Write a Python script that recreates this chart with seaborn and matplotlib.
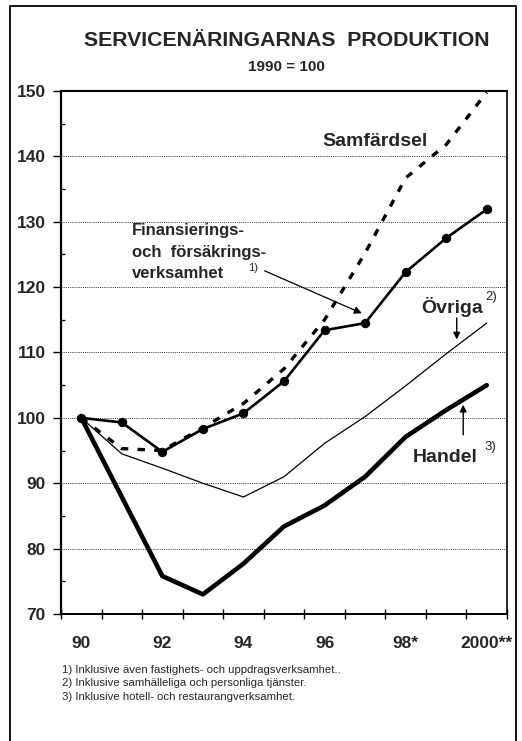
import matplotlib
matplotlib.use("Agg")
import matplotlib.pyplot as plt
from matplotlib.patches import Rectangle
from matplotlib.ticker import FixedLocator, MultipleLocator
import seaborn as sns
import pandas as pd

# Index series, 1990 = 100
years = list(range(1990, 2001))
samfardsel = [100, 95.3, 95.0, 98.5, 102.2, 107.5, 115.0, 125.2, 136.7, 141.8, 149.8]
finansiering = [100, 99.3, 94.8, 98.3, 100.7, 105.6, 113.4, 114.5, 122.3, 127.5, 131.9]
ovriga = [100, 94.5, 92.3, 90.0, 87.9, 91.0, 96.1, 100.2, 104.9, 109.8, 114.5]
handel = [100, 87.9, 75.8, 73.0, 77.7, 83.4, 86.6, 91.0, 97.1, 101.2, 105.0]

xtick_years = [1990, 1992, 1994, 1996, 1998, 2000]
xtick_labels = ["90", "92", "94", "96", "98*", "2000**"]
ytick_values = [70, 80, 90, 100, 110, 120, 130, 140, 150]

title = "SERVICENÄRINGARNAS  PRODUKTION"
subtitle = "1990 = 100"
fin_label = ["Finansierings-", "och  försäkrings-", "verksamhet"]
footnotes = [
    "1) Inklusive även fastighets- och uppdragsverksamhet..",
    "2) Inklusive samhälleliga och personliga tjänster.",
    "3) Inklusive hotell- och restaurangverksamhet.",
]

df = pd.DataFrame({
    "år": years * 4,
    "index": samfardsel + finansiering + ovriga + handel,
    "näring": (["Samfärdsel"] * 11 + ["Finansiering"] * 11
               + ["Övriga"] * 11 + ["Handel"] * 11),
})

sns.set_theme(style="ticks")
plt.rcParams["font.family"] = ["Liberation Sans", "DejaVu Sans"]

fig = plt.figure(figsize=(5.22, 7.41), dpi=100)
ax = fig.add_axes([61 / 522, 1 - 614 / 741, (507 - 61) / 522, (614 - 91) / 741])

# Horizontal dotted grid
for v in ytick_values[1:-1]:
    ax.axhline(v, color="#333333", lw=0.7, ls=(0, (1, 1.2)), zorder=0)

sub = df[df["näring"] == "Övriga"]
sns.lineplot(data=sub, x="år", y="index", ax=ax, color="black", lw=0.9,
             legend=False, zorder=2)
sub = df[df["näring"] == "Handel"]
sns.lineplot(data=sub, x="år", y="index", ax=ax, color="black", lw=3.3,
             legend=False, zorder=3)
sub = df[df["näring"] == "Finansiering"]
sns.lineplot(data=sub, x="år", y="index", ax=ax, color="black", lw=1.9,
             marker="o", markersize=6, markeredgecolor="black",
             legend=False, zorder=4)
sub = df[df["näring"] == "Samfärdsel"]
sns.lineplot(data=sub, x="år", y="index", ax=ax, color="black", lw=2.4,
             legend=False, zorder=5)
ax.lines[-1].set_dashes((2.2, 2.8))
ax.lines[-1].set_dash_capstyle("butt")

ax.set_xlim(1989.5, 2000.5)
ax.set_ylim(70, 150)
ax.set_xlabel("")
ax.set_ylabel("")

ax.xaxis.set_major_locator(FixedLocator(xtick_years))
ax.set_xticklabels(xtick_labels)
ax.xaxis.set_minor_locator(MultipleLocator(1, offset=0.5))
ax.tick_params(axis="x", which="major", length=0, pad=16,
               labelsize=12.5)
ax.tick_params(axis="x", which="minor", length=7, width=1.0,
               direction="inout", color="black")

ax.yaxis.set_major_locator(FixedLocator(ytick_values))
ax.yaxis.set_minor_locator(MultipleLocator(5))
ax.tick_params(axis="y", which="major", length=6, width=1.0,
               direction="out", pad=5, labelsize=12.5, color="black")
ax.tick_params(axis="y", which="minor", length=3, width=0.9,
               direction="in", color="black")
for lab in ax.get_xticklabels() + ax.get_yticklabels():
    lab.set_fontweight("bold")

for side, w in [("left", 1.6), ("bottom", 1.4), ("top", 1.5), ("right", 1.2)]:
    ax.spines[side].set_visible(True)
    ax.spines[side].set_linewidth(w)
    ax.spines[side].set_color("black")

# Series labels and pointers
ax.text(1997.24, 142.2, "Samfärdsel", fontsize=14, fontweight="bold",
        ha="center", va="center")
for i, line in enumerate(fin_label):
    ax.text(1991.25, 128.6 - 3.25 * i, line, fontsize=12, fontweight="bold",
            ha="left", va="center")
ax.text(1994.25, 122.9, "1)", fontsize=8, ha="center", va="center")
ax.annotate("", xy=(1996.92, 116.0), xytext=(1994.52, 122.5),
            arrowprops=dict(arrowstyle="-|>", color="black", lw=0.9,
                            mutation_scale=11, shrinkA=0, shrinkB=0))

ax.text(1999.15, 117.0, "Övriga", fontsize=14, fontweight="bold",
        ha="center", va="center")
ax.text(2000.12, 118.5, "2)", fontsize=9.5, ha="center", va="center")
ax.annotate("", xy=(1999.26, 112.0), xytext=(1999.26, 115.3),
            arrowprops=dict(arrowstyle="-|>", color="black", lw=1.0,
                            mutation_scale=10, shrinkA=0, shrinkB=0))

ax.text(1998.98, 93.9, "Handel", fontsize=14, fontweight="bold",
        ha="center", va="center")
ax.text(2000.08, 95.6, "3)", fontsize=9.5, ha="center", va="center")
ax.annotate("", xy=(1999.42, 102.0), xytext=(1999.42, 97.4),
            arrowprops=dict(arrowstyle="-|>", color="black", lw=1.0,
                            mutation_scale=10, shrinkA=0, shrinkB=0))

# Titles
fig.text(287 / 522, 1 - 40 / 741, title, fontsize=15.3, fontweight="bold",
         ha="center", va="center")
fig.text(286 / 522, 1 - 67 / 741, subtitle, fontsize=11, fontweight="bold",
         ha="center", va="center")

# Footnotes
for i, note in enumerate(footnotes):
    fig.text(62 / 522, 1 - (670 + 13.5 * i) / 741, note, fontsize=8.2,
             ha="left", va="center")

# Outer frame
fig.add_artist(Rectangle((10 / 522, -0.02), (516 - 10) / 522,
                         1.02 - 6 / 741, transform=fig.transFigure,
                         fill=False, lw=1.3, edgecolor="black"))

fig.savefig("out.png", dpi=100, facecolor="white")
